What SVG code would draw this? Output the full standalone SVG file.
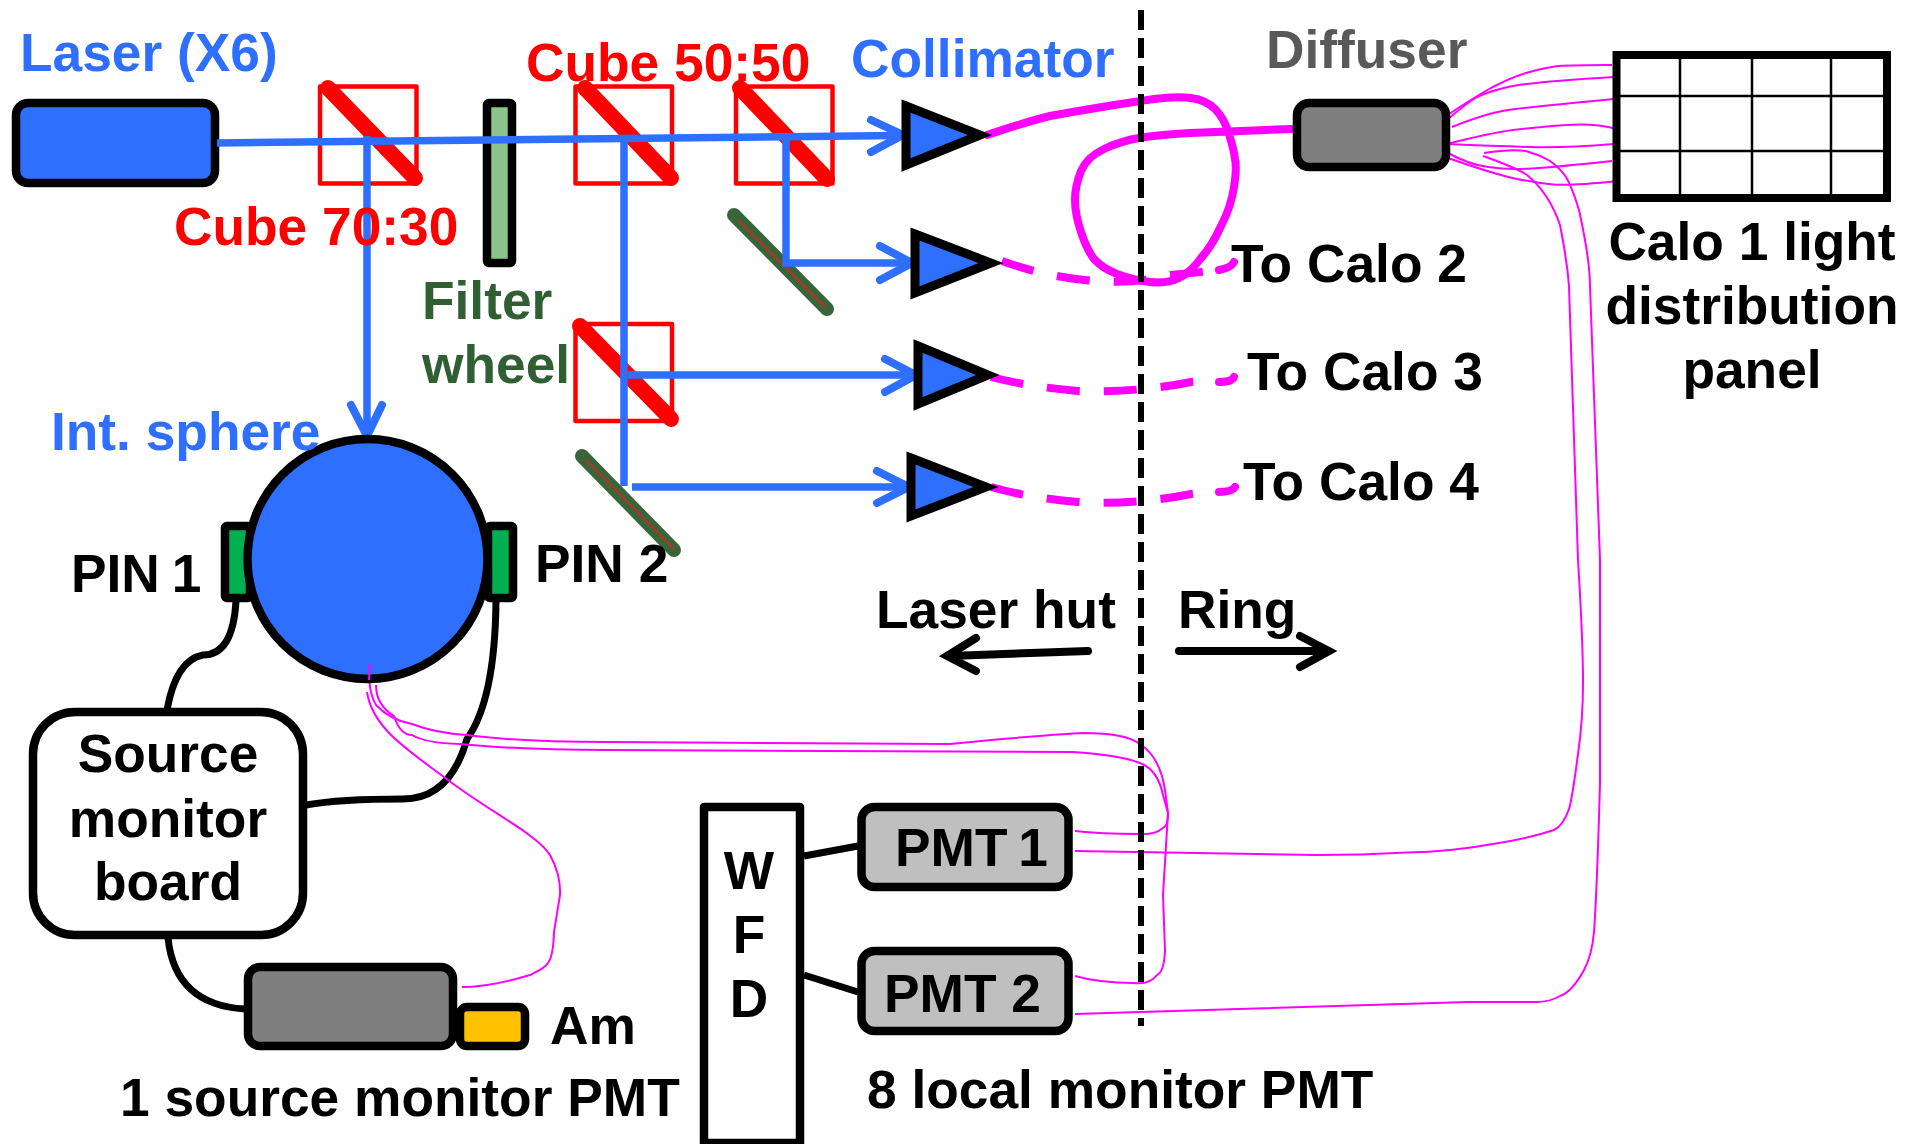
<svg xmlns="http://www.w3.org/2000/svg" width="1907" height="1144" viewBox="0 0 1907 1144">
<style>
text{font-family:"Liberation Sans",Arial,sans-serif;font-weight:700;font-size:53.3px;fill:#000}
.c{text-anchor:middle}
.blue{fill:#2e6fff}.red{fill:#f00}.gr{fill:#595959}.dg{fill:#2f5f33}
.n{stroke:#000;stroke-width:8.500;stroke-linejoin:round}
.tri{stroke:#000;stroke-width:9;stroke-linejoin:miter;fill:#2e6fff}
.cube{fill:none;stroke:#f00;stroke-width:4.500;stroke-linejoin:round}
.diag{stroke:#f00;stroke-width:16;stroke-linecap:round;fill:none}
.mir{stroke:#38663a;stroke-width:14;stroke-linecap:round;fill:none}
.mirc{stroke:#e02020;stroke-width:1.500;fill:none}
.beam{stroke:#2e6fff;stroke-width:7.500;fill:none}
.head{stroke:#2e6fff;stroke-width:8;fill:none;stroke-linecap:round;stroke-linejoin:miter}
.cable{stroke:#000;stroke-width:7;fill:none}
.ah{stroke:#000;stroke-width:8;fill:none;stroke-linecap:round}
.thick{stroke:#f0f;stroke-width:8;fill:none;stroke-linecap:round}
.dash{stroke:#f0f;stroke-width:8;fill:none;stroke-dasharray:33 24}
.tip{stroke:#f0f;stroke-width:8;fill:none;stroke-linecap:round}
.thin{stroke:#f0f;stroke-width:2;fill:none}
.grid{stroke:#000;stroke-width:2.500;fill:none}
</style>
<rect width="1907" height="1144" fill="#fff"/>

<g id="laser"><rect class="n" x="16" y="103" width="199" height="80" rx="12" fill="#2e6fff"/></g>
<g id="cube-70-30">
<path class="diag" d="M328 88L415 178"/><rect class="cube" x="320" y="86.500" width="96.500" height="97"/></g>
<g id="filter-wheel"><rect class="n" x="487" y="103" width="25" height="160" rx="2" fill="#8cc28c"/></g>
<g id="cube-50-50-a">
<path class="diag" d="M585 88L671 178"/><rect class="cube" x="575.500" y="86.500" width="96.500" height="97"/></g>
<g id="cube-50-50-b">
<path class="diag" d="M740 88L827 179"/><rect class="cube" x="736" y="86.500" width="96.500" height="97"/></g>
<g id="cube-lower">
<path class="diag" d="M580 326L671 419"/><rect class="cube" x="575.500" y="324" width="96.500" height="97"/></g>
<g id="mirror-1"><path class="mir" d="M734 215L827 309"/><path class="mirc" d="M738 220L826 308"/></g>
<g id="mirror-2"><path class="mir" d="M582 456L674 550"/><path class="mirc" d="M586 460L674 549"/></g>

<g id="connectors">
<path class="beam" d="M217 143L900 135.500"/>
<path class="head" d="M871 120L903 135L871 152"/>
<path class="beam" d="M367 136V432"/>
<path class="head" d="M351 405L367 436L382 405"/>
<path class="beam" d="M624 139V486"/>
<path class="beam" d="M786 139V263H908"/>
<path class="head" d="M880 246L912 263L880 280"/>
<path class="beam" d="M628 375H912"/>
<path class="head" d="M885 359L916 375L885 392"/>
<path class="beam" d="M632 487H905"/>
<path class="head" d="M877 471L909 487L877 503"/>

<path class="cable" d="M236 601Q233 655 203 655Q176 660 167 710"/>
<path class="cable" d="M496 601Q495 700 467 739Q450 799 403 799Q340 799 306 805"/>
<path class="cable" d="M168 938Q175 1005 245 1009"/>
<path class="cable" d="M804 856L858 846"/>
<path class="cable" d="M804 975L858 992"/>

<path class="thick" d="M987 135Q1029 121 1050 116Q1072 112 1102 107Q1133 102 1154 99Q1176 96 1191 98Q1206 100 1215 109Q1224 118 1229 134Q1234 150 1235 159Q1237 168 1234 187Q1231 207 1221 226Q1212 246 1201 258Q1191 272 1179 278Q1167 284 1150 282Q1133 280 1117 274Q1102 268 1094 259Q1087 250 1081 232Q1075 214 1075 200Q1075 186 1081 171Q1087 157 1104 149Q1121 141 1139 138Q1157 135 1190 133L1292 129"/>
<path class="dash" d="M1002 261Q1040 275 1084 280Q1133 285 1170 275L1212 271"/>
<path class="tip" d="M1219 270Q1231 268 1234 262"/>
<path class="dash" d="M991 377Q1030 387 1078 391Q1136 393 1191 382L1212 380"/>
<path class="tip" d="M1219 382Q1232 382 1234 377"/>
<path class="dash" d="M991 487Q1030 498 1078 502Q1136 505 1191 494L1212 491"/>
<path class="tip" d="M1219 492Q1232 492 1235 487"/>

<path class="thin" d="M1446 116Q1473 98 1491 88Q1510 78 1526 73Q1543 68 1558 66Q1573 65 1609 65"/>
<path class="thin" d="M1448 119Q1467 103 1477 97Q1487 92 1508 87Q1530 82 1614 77"/>
<path class="thin" d="M1452 127Q1487 113 1508 110Q1530 107 1614 99"/>
<path class="thin" d="M1447 144Q1490 133 1513 130Q1537 127 1567 125Q1597 123 1620 130"/>
<path class="thin" d="M1447 144Q1497 146 1530 147Q1563 148 1614 144"/>
<path class="thin" d="M1448 153Q1470 165 1488 167Q1507 170 1532 168.500Q1557 167 1612 161"/>
<path class="thin" d="M1448 158Q1497 175 1517 179Q1537 183 1553 184.500Q1570 186 1618 181"/>
<path class="thin" d="M1483 156Q1517 168 1527 175Q1537 183 1546 196Q1555 210 1560 225Q1567 260 1569 286L1578 560Q1583 640 1583 683Q1583 720 1578 754Q1572 800 1569 809Q1563 826 1554 830Q1530 838 1499 843Q1450 852 1407 852.500Q1360 855 1316 855L1075 851"/>
<path class="thin" d="M1484 153Q1517 148 1529 152Q1540 155 1550 161Q1560 168 1566 177Q1572 187 1579 210Q1590 260 1590 286L1600 560V783Q1597 890 1594 932Q1592 955 1584 970Q1572 992 1560 996Q1550 1002 1536 1002H1468L1075 1014"/>
<path class="thin" d="M370 664Q367 690 376 705Q390 720 412 724Q435 733 467 735Q520 742 606 742L950 744Q1040 735 1084 733Q1125 733 1140 744Q1160 757 1165 790L1168 813L1163 895L1165 951Q1164 972 1157 975Q1150 985 1133 983Q1100 983 1075 976"/>
<path class="thin" d="M376 685Q376 705 394 716Q400 735 412 735Q425 743 460 744Q520 750 606 750L1072 752Q1120 755 1140 763Q1158 770 1163 795L1168 813Q1168 826 1163 828Q1155 835 1139 834Q1100 834 1075 831"/>
<path class="thin" d="M367 692C372 725 400 745 448 780C490 812 538 835 550 855Q561 875 560 895L554 932C553 965 548 966 530 975Q490 987 462 987"/>
</g>

<g id="collimator-1"><path class="tri" d="M906 106L980 135L906 165Z"/></g>
<g id="collimator-2"><path class="tri" d="M915 234L991 263L915 293Z"/></g>
<g id="collimator-3"><path class="tri" d="M918 346L988 375L918 404Z"/></g>
<g id="collimator-4"><path class="tri" d="M911 458L986 487L911 516Z"/></g>
<g id="diffuser"><rect class="n" x="1297" y="103" width="149" height="64" rx="12" fill="#7f7f7f"/></g>
<g id="panel">
<rect x="1616.500" y="55" width="270.500" height="143" fill="#fff" stroke="#000" stroke-width="8"/>
<path class="grid" d="M1680 55V198M1752 55V198M1831 55V198M1616 96H1887M1616 151H1887"/>
<path class="thin" d="M1609 65H1612"/>
</g>

<g id="pin-1"><rect class="n" x="225" y="526" width="25" height="72" rx="2" fill="#00b050"/></g>
<g id="pin-2"><rect class="n" x="488" y="526" width="25" height="72" rx="2" fill="#00b050"/></g>
<g id="sphere"><circle class="n" cx="367.500" cy="559" r="120" fill="#2e6fff"/></g>
<path class="thin" d="M370 664L369 680"/>
<g id="source-board"><rect class="n" x="33" y="712" width="270" height="223" rx="42" fill="#fff"/></g>
<g id="source-pmt"><rect class="n" x="248" y="967" width="205" height="79" rx="12" fill="#7f7f7f"/></g>
<g id="am"><rect class="n" x="460" y="1007" width="65" height="39" rx="7" fill="#ffc000"/></g>
<g id="wfd"><rect class="n" x="704" y="807" width="96" height="336" fill="#fff"/></g>
<g id="pmt-1"><rect class="n" x="861.500" y="807" width="207" height="80" rx="13" fill="#bfbfbf"/></g>
<g id="pmt-2"><rect class="n" x="861.500" y="951" width="207" height="80" rx="13" fill="#bfbfbf"/></g>

<path d="M1141 10V1026" stroke="#000" stroke-width="6" stroke-dasharray="20 8" fill="none"/>
<path class="ah" d="M1088 651L950 656M976 638L947 656L976 671"/>
<path class="ah" d="M1179 651H1325M1300 636L1329 651L1300 667"/>

<text class="blue" x="20" y="71">Laser (X6)</text>
<text class="red" x="526" y="81">Cube 50:50</text>
<text class="red" x="174" y="245">Cube 70:30</text>
<text class="blue" x="851" y="77">Collimator</text>
<text class="gr" x="1266" y="68">Diffuser</text>
<text class="dg" x="422" y="319">Filter</text>
<text class="dg" x="422" y="383">wheel</text>
<text class="blue" x="51" y="450">Int. sphere</text>
<text x="71" y="592" word-spacing="-3">PIN 1</text>
<text x="535" y="582">PIN 2</text>
<text x="1231" y="282">To Calo 2</text>
<text x="1247" y="390">To Calo 3</text>
<text x="1243" y="500">To Calo 4</text>
<text class="c" x="1752" y="260">Calo 1 light</text>
<text class="c" x="1752" y="324">distribution</text>
<text class="c" x="1752" y="388">panel</text>
<text class="c" x="168" y="772">Source</text>
<text class="c" x="168" y="837">monitor</text>
<text class="c" x="168" y="900">board</text>
<text class="c" x="749" y="889">W</text>
<text class="c" x="749" y="953">F</text>
<text class="c" x="749" y="1017">D</text>
<text x="895" y="866" word-spacing="-4">PMT 1</text>
<text x="884" y="1012">PMT 2</text>
<text x="550" y="1044">Am</text>
<text x="120" y="1116">1 source monitor PMT</text>
<text x="867" y="1108">8 local monitor PMT</text>
<text x="876" y="628">Laser hut</text>
<text x="1178" y="628">Ring</text>
</svg>
